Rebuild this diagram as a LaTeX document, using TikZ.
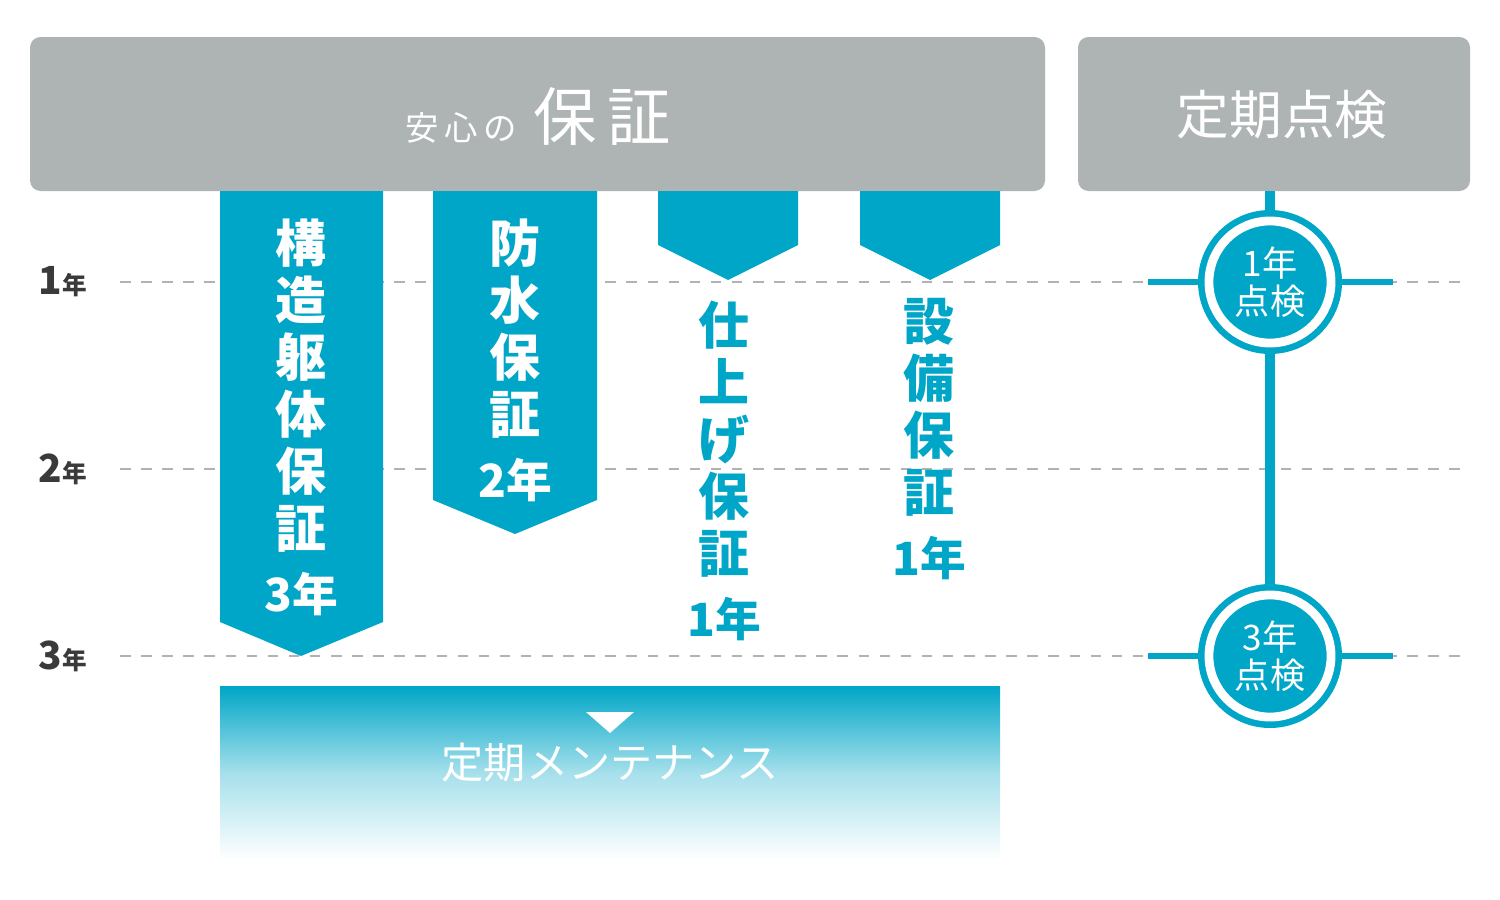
\documentclass[tikz,border=0pt]{standalone}
\usepackage{fontspec}
\setmainfont{Noto Sans CJK JP}
\usetikzlibrary{positioning}
\definecolor{guard}{HTML}{00A6C7}
\definecolor{panel}{HTML}{AEB3B3}
\definecolor{yearink}{HTML}{3A3A3A}
\tikzset{
  panelbox/.style={fill=panel, draw=none, rounded corners=3pt},
  yearline/.style={dashed, gray!60, line width=0.6pt},
  bartext/.style={white, align=center, inner sep=0, font=\bfseries\fontsize{14.5}{16.2}\selectfont},
  freetext/.style={guard, align=center, inner sep=0, font=\bfseries\fontsize{14.5}{16.2}\selectfont},
  checkring/.style={circle, fill=guard, draw=white, line width=2.5pt, minimum size=1.22cm, inner sep=0,
    text=white, align=center, font=\fontsize{10}{11}\selectfont},
  yearlab/.style={yearink, anchor=west, inner sep=0}
}
\begin{document}
\begin{tikzpicture}[x=0.01cm, y=-0.01cm]
        \useasboundingbox (0,0) rectangle (1500,900);

        % Headers
        \fill[panelbox] (30,37) rectangle (1045,191);
        \fill[panelbox] (1078,37) rectangle (1470,191);
        \node[white, inner sep=0] (anshin) at (538,117)
            {\fontsize{9.5}{10}\selectfont 安\,心\,の\hspace{0.5em}\fontsize{18}{20}\selectfont 保\,証};
        \node[white, inner sep=0] (teiki) at (1282,115) {\fontsize{15}{16}\selectfont 定期点検};

        % Year lines
        \foreach \y/\n in {282/1, 469/2, 656/3} {
            \draw[yearline] (120,\y) -- (1465,\y);
            \node[yearlab] (yr\n) at (38,\y) {\bfseries\fontsize{11}{11}\selectfont {\n}\fontsize{7}{7}\selectfont 年};
        }

        % Warranty bars
        \fill[guard] (220,191) -- (383,191) -- (383,622) -- (301,656) -- (220,622) -- cycle;
        \fill[guard] (433,191) -- (597,191) -- (597,500) -- (515,534) -- (433,500) -- cycle;
        \fill[guard] (658,191) -- (798,191) -- (798,245) -- (728,280) -- (658,245) -- cycle;
        \fill[guard] (860,191) -- (1000,191) -- (1000,245) -- (930,280) -- (860,245) -- cycle;

        \node[bartext, anchor=north] (kozo) at (301,218) {構\\造\\躯\\体\\保\\証\\[2pt]{\fontsize{13}{14}\selectfont 3年}};
        \node[bartext, anchor=north] (bosui) at (515,218) {防\\水\\保\\証\\[2pt]{\fontsize{13}{14}\selectfont 2年}};
        \node[freetext, anchor=north] (shiage) at (724,300) {仕\\上\\げ\\保\\証\\[2pt]{\fontsize{13}{14}\selectfont 1年}};
        \node[freetext, anchor=north] (setsubi) at (929,298) {設\\備\\保\\証\\[2pt]{\fontsize{13}{14}\selectfont 1年}};

        % Periodic checks
        \draw[guard, line width=2.8pt] (1270,191) -- (1270,700);
        \foreach \y/\n in {282/1, 656/3} {
            \draw[guard, line width=1.5pt] (1148,\y) -- (1393,\y);
            \fill[guard] (1270,\y) circle (72);
            \node[checkring] (chk\n) at (1270,\y) {{\n}年\\点検};
        }

        % Maintenance
        \shade[top color=guard, bottom color=white, middle color=guard!35] (220,686) rectangle (1000,860);
        \fill[white] (586,712) -- (634,712) -- (610,733) -- cycle;
        \node[white, inner sep=0] (maint) at (610,763) {\fontsize{12}{13}\selectfont 定期メンテナンス};
\end{tikzpicture}
\end{document}
